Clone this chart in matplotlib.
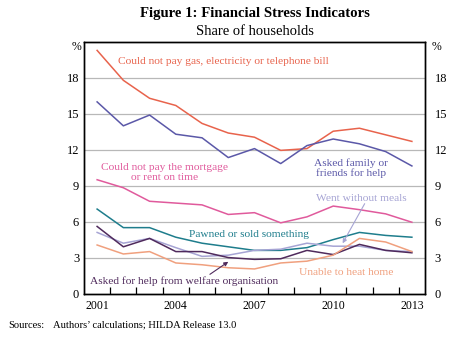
import matplotlib
matplotlib.use("Agg")
import matplotlib.pyplot as plt

plt.rcParams["font.family"] = ["Liberation Serif", "DejaVu Serif"]

years = list(range(2001, 2014))

gas_bill = [20.3, 17.8, 16.3, 15.7, 14.2, 13.4, 13.05, 11.95, 12.1, 13.55, 13.8, 13.25, 12.7]
asked_family = [16.0, 14.0, 14.9, 13.3, 13.0, 11.35, 12.1, 10.85, 12.35, 12.9, 12.5, 11.85, 10.65]
mortgage_rent = [9.5, 8.83, 7.7, 7.55, 7.4, 6.6, 6.75, 5.9, 6.4, 7.3, 7.0, 6.65, 5.95]
pawned = [7.05, 5.5, 5.5, 4.7, 4.2, 3.9, 3.6, 3.6, 3.83, 4.5, 5.1, 4.85, 4.7]
without_meals = [5.1, 4.2, 4.6, 3.83, 3.1, 3.2, 3.6, 3.7, 4.2, 3.95, 3.95, 3.6, 3.5]
welfare = [5.6, 3.9, 4.6, 3.5, 3.5, 3.0, 2.85, 2.9, 3.6, 3.25, 4.1, 3.6, 3.4]
heat_home = [4.05, 3.3, 3.5, 2.55, 2.4, 2.15, 2.05, 2.55, 2.7, 3.2, 4.6, 4.3, 3.5]

year_labels = [2001, 2004, 2007, 2010, 2013]
y_ticks = [0, 3, 6, 9, 12, 15, 18]

c_gas = "#e8634c"
c_family = "#5b58a8"
c_mort = "#e05a9c"
c_pawn = "#1e7d8c"
c_meals = "#a6a4d4"
c_welf = "#4f2a5c"
c_heat = "#f0a07e"

W, H = 455, 340
fig = plt.figure(figsize=(W / 100, H / 100), dpi=100)
ax = fig.add_axes([84 / W, 1 - 293.5 / H, (425 - 84) / W, (293.5 - 42) / H])

lw = 1.1
ax.plot(years, gas_bill, color=c_gas, lw=lw, zorder=3)
ax.plot(years, asked_family, color=c_family, lw=lw, zorder=3)
ax.plot(years, mortgage_rent, color=c_mort, lw=lw, zorder=3)
ax.plot(years, pawned, color=c_pawn, lw=lw, zorder=3)
ax.plot(years, without_meals, color=c_meals, lw=lw, zorder=3)
ax.plot(years, welfare, color=c_welf, lw=lw, zorder=3)
ax.plot(years, heat_home, color=c_heat, lw=lw, zorder=3)

ax.set_xlim(2000.5, 2013.5)
ax.set_ylim(0, 21)

for v in y_ticks[1:]:
    ax.axhline(v, color="#b8b8b8", lw=0.9, zorder=1)

ax.set_xticks(year_labels)
ax.set_xticklabels([str(y) for y in year_labels], fontsize=8.5)
ax.set_xticks([y + 0.5 for y in years[:-1]], minor=True)
ax.tick_params(axis="x", which="major", length=0, pad=5)
ax.tick_params(axis="x", which="minor", direction="in", length=5, width=0.9, color="black")

ax.set_yticks(y_ticks)
ax.set_yticklabels([str(v) for v in y_ticks], fontsize=9)
ax.tick_params(axis="y", which="both", length=0, pad=3.5)

# right-hand scale repeats the left one
axr = ax.twinx()
axr.set_ylim(ax.get_ylim())
axr.set_yticks(y_ticks)
axr.set_yticklabels([str(v) for v in y_ticks], fontsize=9)
axr.tick_params(axis="y", length=0, pad=7)

for a in (ax, axr):
    for s in a.spines.values():
        s.set_linewidth(1.0)
        s.set_color("black")

fig.text(76 / W, 1 - 47 / H, "%", ha="center", va="center", fontsize=8.5)
fig.text(437 / W, 1 - 47 / H, "%", ha="center", va="center", fontsize=8.5)

fs = 8.2
ax.text(2005.8, 19.36, "Could not pay gas, electricity or telephone bill", color=c_gas,
        fontsize=fs, ha="center", va="center")
ax.text(2003.57, 10.1, "Could not pay the mortgage\nor rent on time", color=c_mort,
        fontsize=fs, ha="center", va="center", linespacing=1.02)
ax.text(2010.69, 10.5, "Asked family or\nfriends for help", color=c_family,
        fontsize=fs, ha="center", va="center", linespacing=1.02)
ax.text(2011.07, 7.9, "Went without meals", color=c_meals,
        fontsize=fs, ha="center", va="center")
ax.annotate("", xy=(2010.36, 4.19), xytext=(2011.2, 7.5),
            arrowprops=dict(arrowstyle="-|>", color=c_meals, lw=0.8,
                            mutation_scale=6, shrinkA=0, shrinkB=0))
ax.text(2006.8, 4.95, "Pawned or sold something", color=c_pawn,
        fontsize=fs, ha="center", va="center")
ax.text(2004.3, 1.05, "Asked for help from welfare organisation", color=c_welf,
        fontsize=fs, ha="center", va="center")
ax.annotate("", xy=(2006.0, 2.65), xytext=(2005.3, 1.6),
            arrowprops=dict(arrowstyle="-|>", color=c_welf, lw=0.8,
                            mutation_scale=6, shrinkA=0, shrinkB=0))
ax.text(2010.5, 1.72, "Unable to heat home", color=c_heat,
        fontsize=fs, ha="center", va="center")

fig.text(254.5 / W, 1 - 13 / H, "Figure 1: Financial Stress Indicators", ha="center",
         va="center", fontsize=10.6, fontweight="bold")
fig.text(254.5 / W, 1 - 31.5 / H, "Share of households", ha="center", va="center",
         fontsize=10.5)
fig.text(8 / W, 1 - 325 / H, "Sources:", ha="left", va="center", fontsize=7.6)
fig.text(53 / W, 1 - 325 / H, "Authors\u2019 calculations; HILDA Release 13.0", ha="left",
         va="center", fontsize=7.6)

fig.savefig("out.png", dpi=100)
